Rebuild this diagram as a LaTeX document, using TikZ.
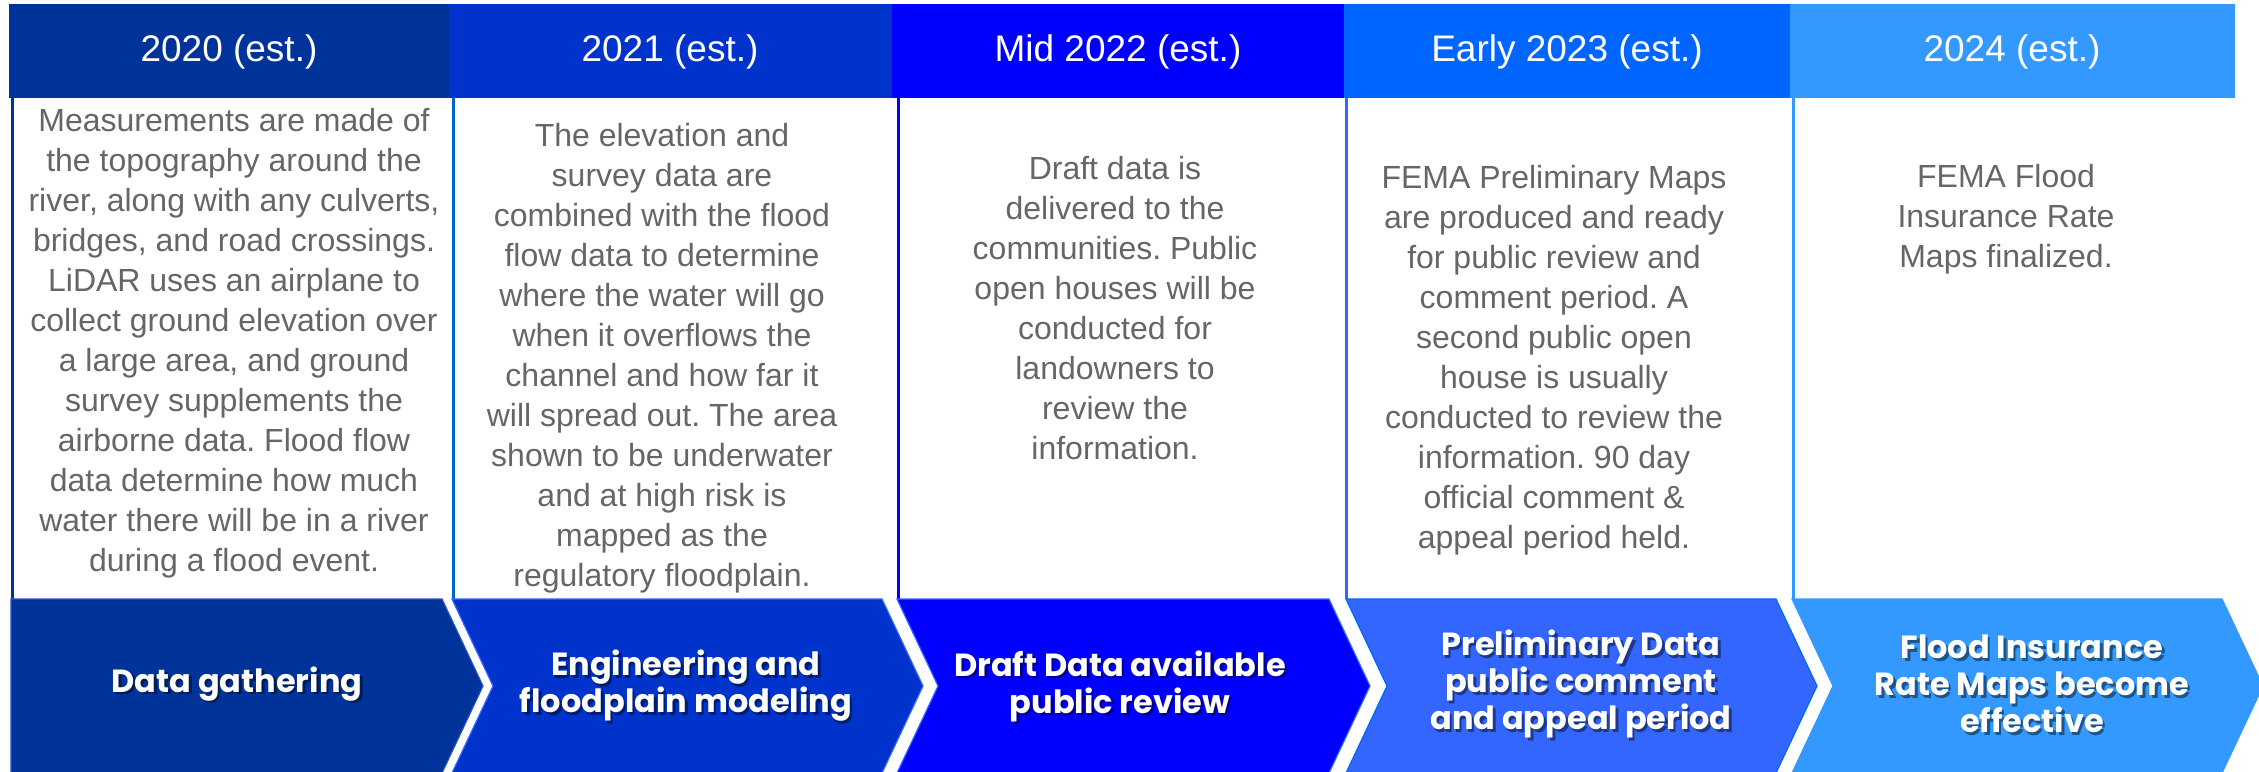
\documentclass[tikz,border=0pt]{standalone}
\usepackage{fontspec}
\setmainfont{Liberation Sans}
\newfontfamily\chevfont{Poppins}
\frenchspacing
\definecolor{cA}{HTML}{003399}
\definecolor{cB}{HTML}{0033CC}
\definecolor{cC}{HTML}{0000FF}
\definecolor{cD}{HTML}{0066FF}
\definecolor{cDc}{HTML}{3366FF}
\definecolor{cE}{HTML}{3399FF}
\definecolor{bodygray}{HTML}{666666}
\definecolor{edgeA}{HTML}{2255CC}
\definecolor{divB}{HTML}{0066CC}
\tikzset{
  headtext/.style={text=white, font=\fontsize{37}{42}\selectfont, inner sep=0pt},
  bodytext/.style={text=bodygray, font=\fontsize{32}{40}\selectfont\frenchspacing, align=center, inner sep=0pt},
  chevtext/.style={text=white, font=\chevfont\bfseries\fontsize{32}{37}\selectfont, align=center, inner sep=0pt},
  chevshadow/.style={text=black, text opacity=0.45, font=\chevfont\bfseries\fontsize{32}{37}\selectfont, align=center, inner sep=0pt},
  divider/.style={line width=3pt},
  chevron/.style={line width=1.2pt}
}
\begin{document}
\begin{tikzpicture}[x=1pt,y=-1pt]
\useasboundingbox (0,0) rectangle (2259,771);
\fill[white] (0,0) rectangle (2259,771);

% header cells
\fill[cA] (9,4) rectangle (449,98);
\fill[cB] (449,4) rectangle (892,98);
\fill[cC] (892,4) rectangle (1344,98);
\fill[cD] (1344,4) rectangle (1790,98);
\fill[cE] (1790,4) rectangle (2235,98);

\node[headtext] (h1) at (229,52) {2020 (est.)};
\node[headtext] (h2) at (670,52) {2021 (est.)};
\node[headtext] (h3) at (1118,52) {Mid 2022 (est.)};
\node[headtext] (h4) at (1567,52) {Early 2023 (est.)};
\node[headtext] (h5) at (2012,52) {2024 (est.)};

% body dividers
\draw[divider, cA] (12,98) -- (12,599);
\draw[divider, divB] (453,98) -- (453,599);
\draw[divider, cC] (898,98) -- (898,599);
\draw[divider, cDc] (1346,98) -- (1346,599);
\draw[divider, cE] (1793,98) -- (1793,599);

% body texts
\node[bodytext] (b1) at (234,343) {Measurements are made of\\the topography around the\\river, along with any culverts,\\bridges, and road crossings.\\LiDAR uses an airplane to\\collect ground elevation over\\a large area, and ground\\survey supplements the\\airborne data. Flood flow\\data determine how much\\water there will be in a river\\during a flood event.};
\node[bodytext] (b2) at (662,358) {The elevation and\\survey data are\\combined with the flood\\flow data to determine\\where the water will go\\when it overflows the\\channel and how far it\\will spread out. The area\\shown to be underwater\\and at high risk is\\mapped as the\\regulatory floodplain.};
\node[bodytext] (b3) at (1115,308) {Draft data is\\delivered to the\\communities. Public\\open houses will be\\conducted for\\landowners to\\review the\\information.};
\node[bodytext] (b4) at (1554,360) {FEMA Preliminary Maps\\are produced and ready\\for public review and\\comment period. A\\second public open\\house is usually\\conducted to review the\\information. 90 day\\official comment \&\\appeal period held.};
\node[bodytext] (b5) at (2006,219) {FEMA Flood\\Insurance Rate\\Maps finalized.};

% chevrons
\filldraw[chevron, fill=cA, draw=edgeA] (11,599) -- (442,599) -- (483,686) -- (442,773) -- (11,773) -- cycle;
\filldraw[chevron, fill=cB, draw=cDc] (452,599) -- (882,599) -- (923,686) -- (882,773) -- (452,773) -- (493,686) -- cycle;
\filldraw[chevron, fill=cC, draw=cDc] (897,599) -- (1329,599) -- (1370,686) -- (1329,773) -- (897,773) -- (938,686) -- cycle;
\filldraw[chevron, fill=cDc, draw=cD] (1346,599) -- (1776,599) -- (1817,686) -- (1776,773) -- (1346,773) -- (1387,686) -- cycle;
\filldraw[chevron, fill=cE, draw=cE] (1792,599) -- (2222,599) -- (2263,686) -- (2222,773) -- (1792,773) -- (1833,686) -- cycle;

% chevron labels with shadow
\node[chevshadow] (s1) at (239.5,686.5) {Data gathering};
\node[chevtext] (c1) at (237,684) {Data gathering};
\node[chevshadow] (s2) at (688.5,688.5) {Engineering and\\floodplain modeling};
\node[chevtext] (c2) at (686,686) {Engineering and\\floodplain modeling};
\node[chevshadow] (s3) at (1122.5,688.5) {Draft Data available\\public review};
\node[chevtext] (c3) at (1120,686) {Draft Data available\\public review};
\node[chevshadow] (s4) at (1583.5,686.5) {Preliminary Data\\public comment\\and appeal period};
\node[chevtext] (c4) at (1581,684) {Preliminary Data\\public comment\\and appeal period};
\node[chevshadow] (s5) at (2034.5,686.5) {Flood Insurance\\Rate Maps become\\effective};
\node[chevtext] (c5) at (2032,684) {Flood Insurance\\Rate Maps become\\effective};
\end{tikzpicture}
\end{document}
